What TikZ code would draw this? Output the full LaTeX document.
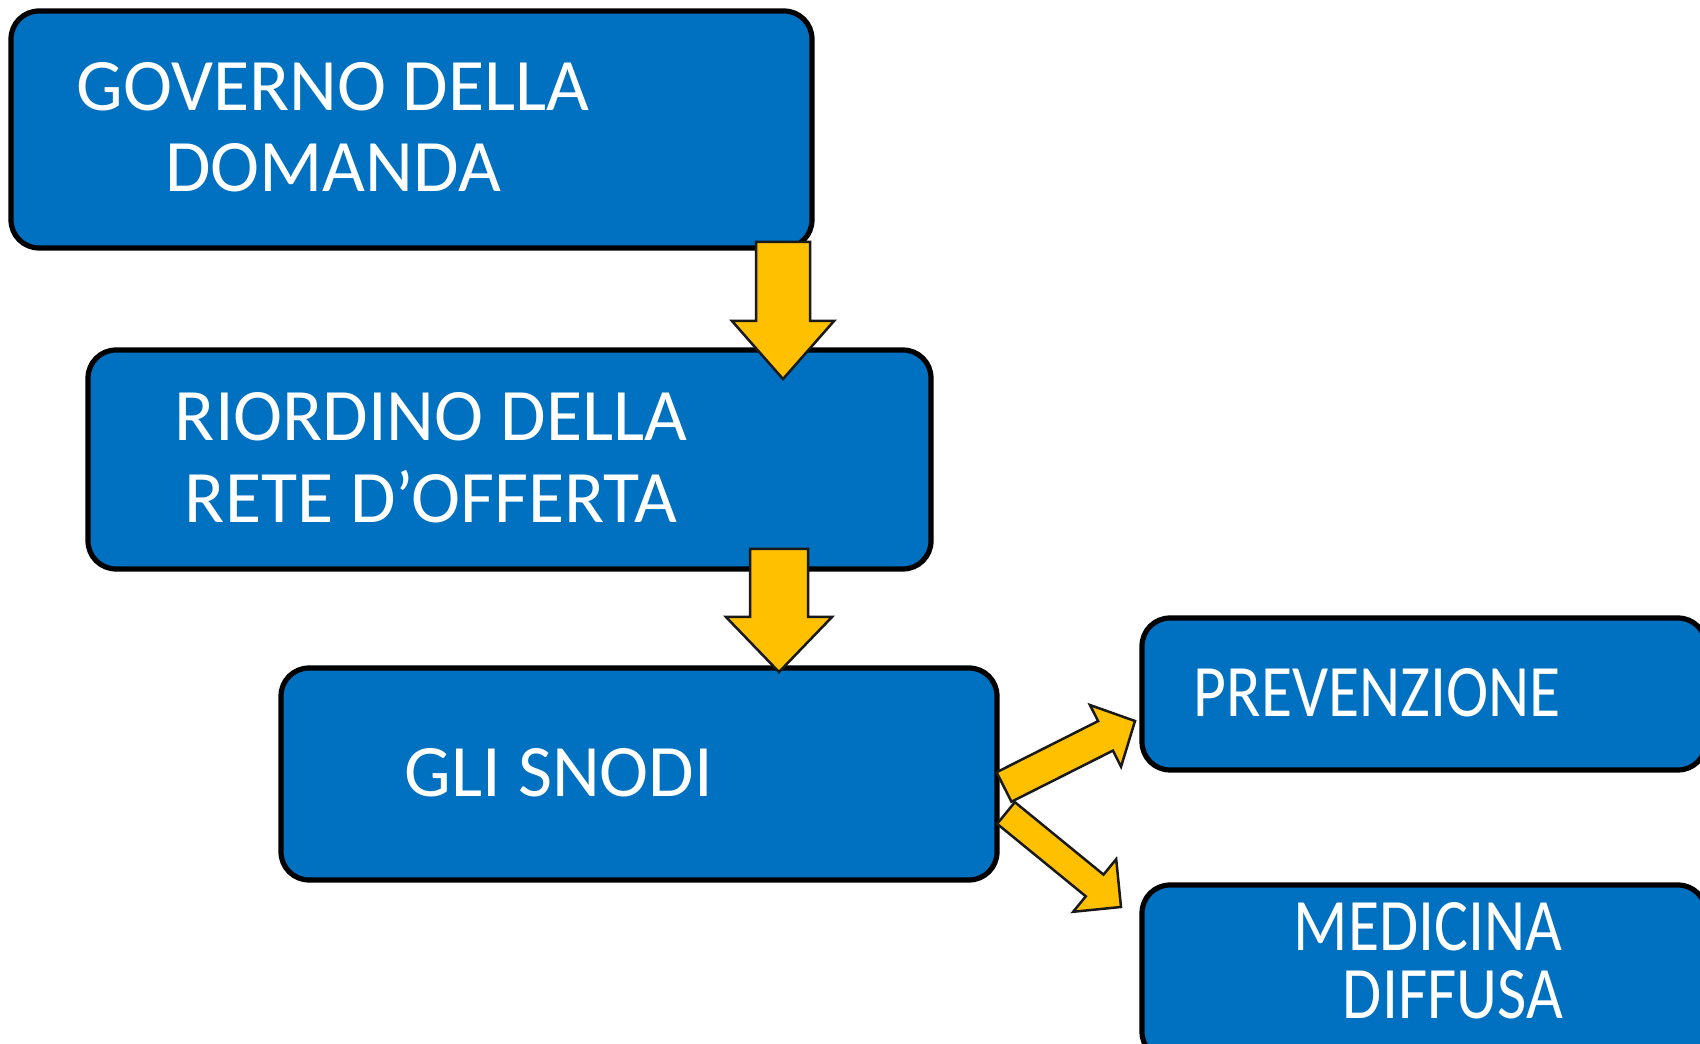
\documentclass[tikz,border=0pt]{standalone}
\usepackage{fontspec}
\setmainfont{Carlito}
\usetikzlibrary{calc}
\definecolor{boxblue}{HTML}{0070C0}
\definecolor{arrowyellow}{HTML}{FFC000}
\tikzset{
  boxnode/.style={draw=black, line width=5.2pt, fill=boxblue, rounded corners=28pt, inner sep=0pt, outer sep=0pt},
  lbl/.style={text=white, anchor=base, inner sep=0pt, font=\fontsize{74}{88}\selectfont},
  barrow/.style={draw=black!90, line width=2.5pt, fill=arrowyellow, line join=miter}
}
\newcommand{\narrowtext}[1]{\scalebox{0.86}[1]{#1}}
% block arrow: tail, tip, shaft half width, head half width, head length
\newcommand{\blockarrow}[5]{%
  \draw[barrow] let \p1=($(#2)-(#1)$), \n1={atan2(\y1,\x1)}, \n2={veclen(\x1,\y1)} in
    [shift={(#1)}, rotate=\n1]
    (0,#3) -- ({\n2-#5},#3) -- ({\n2-#5},#4) -- (\n2,0) -- ({\n2-#5},-#4) -- ({\n2-#5},-#3) -- (0,-#3) -- cycle;
}
\begin{document}
\begin{tikzpicture}[x=1pt,y=1pt]
\clip (0,0) rectangle (1700,1044);
\fill[white] (0,0) rectangle (1700,1044);
% boxes
\node[boxnode, minimum width=801pt, minimum height=237pt] (b1) at (411.5,914.5) {};
\node[boxnode, minimum width=843pt, minimum height=219pt] (b2) at (509.5,584.5) {};
\node[boxnode, minimum width=716pt, minimum height=212pt] (b3) at (639,270) {};
\node[boxnode, minimum width=564pt, minimum height=152pt] (b4) at (1424,350) {};
\node[boxnode, minimum width=564pt, minimum height=175pt] (b5) at (1424,71.5) {};
% labels
\node[lbl] (t1a) at (333,933) {GOVERNO DELLA};
\node[lbl] (t1b) at (333,852) {DOMANDA};
\node[lbl] (t2a) at (431,603) {RIORDINO DELLA};
\node[lbl] (t2b) at (431,521) {RETE D’OFFERTA};
\node[lbl] (t3) at (559,247) {GLI SNODI};
\node[lbl] (t4) at (1377,327) {\narrowtext{PREVENZIONE}};
\node[lbl] (t5a) at (1428,93) {\narrowtext{MEDICINA}};
\node[lbl] (t5b) at (1453,25) {\narrowtext{DIFFUSA}};
% arrow end points
\coordinate (a1s) at (783,802);
\coordinate (a1e) at (783,665);
\coordinate (a2s) at (779,495);
\coordinate (a2e) at (779,372);
\coordinate (a3s) at (1004,257);
\coordinate (a3e) at (1135,323);
\coordinate (a4s) at (1006,231);
\coordinate (a4e) at (1121,137);
% arrows
\blockarrow{a1s}{a1e}{27}{51}{58}
\blockarrow{a2s}{a2e}{29}{53}{55}
\blockarrow{a3s}{a3e}{16.5}{34.5}{33}
\blockarrow{a4s}{a4e}{14}{34}{34}
\end{tikzpicture}
\end{document}
